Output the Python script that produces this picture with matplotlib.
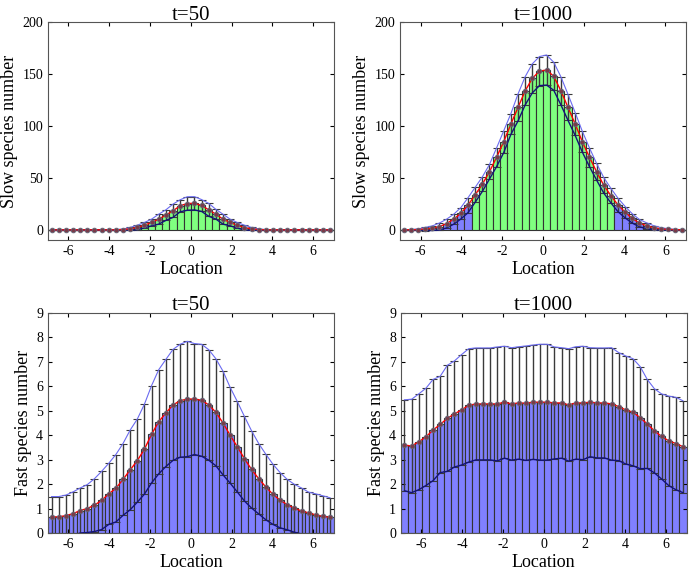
import numpy as np
import matplotlib
matplotlib.use("Agg")
from matplotlib import pyplot as plt

plt.rcParams['font.family'] = ['Liberation Serif', 'DejaVu Serif']
plt.rcParams['axes.unicode_minus'] = False

# bin centres, 40 bins of width 0.35 on [-7, 7]
loc = np.arange(-6.825, 6.9, 0.35)

# slow species, t=50
slow50_mean = [0, 0, 0, 0, 0, 0, 0, 0, 0, 0.05, 0.3, 1.0, 2.3, 4.5, 7.1, 10.3, 14.2, 18.4, 23.2, 25.4,
               25.6, 23.5, 19.3, 15.1, 10.3, 7.1, 4.4, 2.2, 0.9, 0.3, 0.05, 0, 0, 0, 0, 0, 0, 0, 0, 0]
slow50_up = [0, 0, 0, 0, 0, 0, 0, 0, 0.05, 0.2, 0.8, 2.3, 4.5, 7.1, 10.3, 15.1, 19.3, 24.8, 29.0, 31.9,
             32.0, 29.2, 25.5, 19.8, 15.1, 10.3, 7.1, 4.5, 2.3, 1.0, 0.2, 0.05, 0, 0, 0, 0, 0, 0, 0, 0]

# slow species, t=1000
slow1000_mean = [0.05, 0.1, 0.3, 0.8, 1.6, 3.2, 6.1, 10.3, 16.0, 23.8, 33.8, 44, 56, 70, 85, 102, 118, 134, 146, 153,
                 154, 148, 134, 118, 102, 85, 70, 56, 43, 33, 24, 17, 11, 6.5, 4, 2, 1, 0.4, 0.15, 0.05]
slow1000_up = [0.15, 0.3, 0.9, 2.3, 3.8, 6.6, 10.3, 15.1, 21.5, 31, 41, 51, 63, 79, 95.5, 112, 131, 147.6, 160, 167,
               168.5, 161.5, 147.5, 130.5, 113, 95, 79, 64, 50.5, 40, 30.5, 22.5, 15.5, 10, 6.8, 4, 2.2, 1.0, 0.45, 0.15]

# fast species, t=50
fast50_mean = [0.66, 0.66, 0.71, 0.79, 0.92, 1.0, 1.14, 1.33, 1.6, 1.83, 2.19, 2.58, 2.96, 3.43, 4.04, 4.55, 4.91, 5.24, 5.41, 5.48,
               5.48, 5.43, 5.24, 4.94, 4.5, 4.0, 3.53, 3.04, 2.6, 2.22, 1.88, 1.58, 1.34, 1.16, 1.01, 0.9, 0.82, 0.74, 0.68, 0.64]
fast50_up = [1.49, 1.49, 1.55, 1.68, 1.84, 1.98, 2.22, 2.52, 2.85, 3.21, 3.66, 4.21, 4.66, 5.27, 6.03, 6.68, 7.1, 7.51, 7.72, 7.84,
             7.75, 7.72, 7.5, 7.13, 6.62, 5.96, 5.38, 4.77, 4.18, 3.66, 3.22, 2.81, 2.47, 2.19, 1.99, 1.84, 1.67, 1.6, 1.52, 1.44]

# fast species, t=1000
fast1000_mean = [3.59, 3.56, 3.73, 3.93, 4.21, 4.44, 4.69, 4.87, 5.04, 5.22, 5.28, 5.28, 5.28, 5.28, 5.35, 5.28, 5.32, 5.31, 5.35, 5.35,
                 5.35, 5.32, 5.32, 5.24, 5.32, 5.32, 5.35, 5.32, 5.32, 5.28, 5.17, 5.03, 4.94, 4.72, 4.46, 4.18, 3.95, 3.77, 3.66, 3.53]
fast1000_up = [5.45, 5.47, 5.69, 5.92, 6.28, 6.41, 6.86, 7.04, 7.3, 7.54, 7.57, 7.57, 7.57, 7.61, 7.64, 7.58, 7.62, 7.65, 7.69, 7.72,
               7.72, 7.61, 7.58, 7.54, 7.62, 7.64, 7.58, 7.57, 7.57, 7.58, 7.38, 7.24, 7.13, 6.81, 6.28, 5.9, 5.69, 5.6, 5.55, 5.41]

titles = ['t=50', 't=1000', 't=50', 't=1000']

GREEN = '#80ff80'
BLUE = '#8080ff'


def panel(ax, mean, up, title, ylabel, green, ylim, yticks):
    mean = np.array(mean)
    up = np.array(up)
    sd = up - mean
    lo = mean - sd
    if green:
        cols = np.where(np.abs(loc) < 3.5, GREEN, BLUE)
    else:
        cols = BLUE
    ax.bar(loc, mean, width=0.35, color=cols, edgecolor='#333333', linewidth=0.8, zorder=1)
    ax.errorbar(loc, mean, yerr=sd, fmt='none', ecolor='#3a3a3a', elinewidth=1.0,
                capsize=3, capthick=0.8, zorder=2)
    ax.plot(loc, up, color='#6a6af0', lw=0.8, zorder=3)
    ax.plot(loc, lo, color='#12127a', lw=1.0, zorder=3)
    ax.plot(loc, mean, color='red', lw=1.0, zorder=4)
    ax.plot(loc, mean, 'o', ms=3.3, mfc='#7a3a48', mec='#666677', mew=0.7, zorder=5)
    ax.set_xlim(-7, 7)
    ax.set_ylim(*ylim)
    ax.set_xticks([-6, -4, -2, 0, 2, 4, 6])
    ax.set_yticks(yticks)
    ax.tick_params(direction='in', top=True, right=True, labelsize=10, length=3)
    for s in ax.spines.values():
        s.set_color('#555555')
    ax.set_title(title, fontsize=15, pad=2)
    ax.set_xlabel('Location', fontsize=13, labelpad=2)
    ax.set_ylabel(ylabel, fontsize=13, labelpad=3)


fig = plt.figure(figsize=(6.9, 5.72), dpi=100)
ax1 = fig.add_axes([0.0696, 0.580, 0.414, 0.381])
ax2 = fig.add_axes([0.580, 0.580, 0.414, 0.381])
ax3 = fig.add_axes([0.0696, 0.0682, 0.414, 0.3846])
ax4 = fig.add_axes([0.581, 0.0682, 0.414, 0.3846])

panel(ax1, slow50_mean, slow50_up, titles[0], 'Slow species number', True, (-10, 200), [0, 50, 100, 150, 200])
panel(ax2, slow1000_mean, slow1000_up, titles[1], 'Slow species number', True, (-10, 200), [0, 50, 100, 150, 200])
panel(ax3, fast50_mean, fast50_up, titles[2], 'Fast species number', False, (0, 9), range(10))
panel(ax4, fast1000_mean, fast1000_up, titles[3], 'Fast species number', False, (0, 9), range(10))

plt.savefig('out.png', dpi=100)
